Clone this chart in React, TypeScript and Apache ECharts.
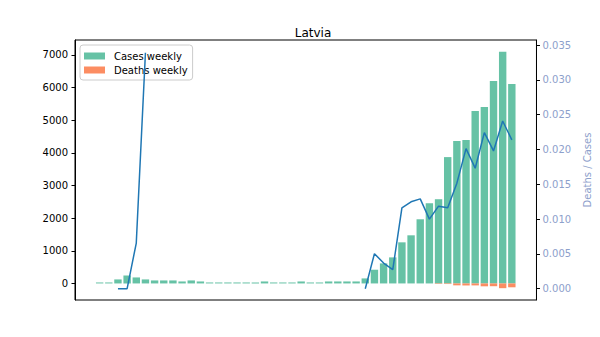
import React, { useEffect, useRef } from "react";
import * as echarts from "echarts";

const title = "Latvia";
const casesWeekly = [
  30, 30, 123, 245, 184, 123, 92, 92, 92, 61, 92, 61, 30, 30, 30, 30, 30, 30, 61, 30,
  30, 30, 61, 30, 30, 61, 61, 61, 61, 154, 420, 614, 798, 1259, 1474, 1965, 2456, 2579,
  3869, 4360, 4391, 5281, 5404, 6202, 7093, 6110,
];
const deathsWeekly = [
  0, 0, 0, 0, 0, 0, 0, 0, 0, 0, 0, 0, 0, 0, 0, 0, 0, 0, 0, 0,
  0, 0, 0, 0, 0, 0, 0, 0, 0, 0, 0, 0, 0, 0, 0, 0, 0, -15,
  -18, -58, -62, -60, -88, -85, -145, -118,
];
const deathsPerCases: (number | null)[] = [
  null, null, 0, 0, 0.00656, 0.0339, null, null, null, null, null, null, null, null,
  null, null, null, null, null, null, null, null, null, null, null, null, null, null,
  null, 0, 0.00503, 0.00369, 0.00273, 0.01162, 0.01248, 0.0129, 0.01, 0.01186, 0.01162,
  0.01516, 0.02012, 0.01731, 0.02242, 0.01979, 0.02409, 0.02137,
];
const leftTicks = [0, 1000, 2000, 3000, 4000, 5000, 6000, 7000];
const rightTicks = [0, 0.005, 0.01, 0.015, 0.02, 0.025, 0.03, 0.035];

const FONT = "DejaVu Sans";

export default function App() {
  const ref = useRef<HTMLDivElement>(null);
  useEffect(() => {
    if (!ref.current) return;
    const chart = echarts.init(ref.current, undefined, { renderer: "svg" });
    chart.setOption({
      animation: false,
      backgroundColor: "#ffffff",
      textStyle: { fontFamily: FONT },
      title: {
        text: title,
        left: 308,
        top: 22,
        textAlign: "center",
        textStyle: { fontFamily: FONT, fontSize: 12, fontWeight: "normal", color: "#000" },
      },
      legend: {
        orient: "vertical",
        left: 80,
        top: 45,
        padding: [6, 5, 5, 4],
        itemGap: 4,
        itemWidth: 21,
        itemHeight: 7,
        borderColor: "#cccccc",
        borderWidth: 1,
        borderRadius: 3,
        backgroundColor: "rgba(255,255,255,0.8)",
        formatter: "{a|{name}}",
        textStyle: {
          fontFamily: FONT,
          fontSize: 10,
          color: "#000",
          rich: { a: { fontFamily: FONT, fontSize: 10, color: "#000", padding: [0, 0, 0, 4] } },
        },
        data: [
          { name: "Cases weekly", icon: "rect" },
          { name: "Deaths weekly", icon: "rect" },
        ],
      },
      grid: {
        left: 75,
        right: 59,
        top: 40,
        bottom: 37,
        show: true,
        borderColor: "#000",
        borderWidth: 1,
        backgroundColor: "transparent",
      },
      xAxis: {
        type: "value",
        min: -2.69,
        max: 47.69,
        show: false,
      },
      yAxis: [
        {
          type: "value",
          min: -507,
          max: 7455,
          splitLine: { show: false },
          axisLine: { show: true, onZero: false, lineStyle: { color: "#000" } },
          axisTick: { show: true, length: 3.5, lineStyle: { color: "#000" }, customValues: leftTicks },
          axisLabel: {
            fontFamily: FONT,
            fontSize: 10,
            color: "#000",
            margin: 7,
            customValues: leftTicks,
            formatter: (v: number) => String(v),
          },
        },
        {
          type: "value",
          position: "right",
          min: -0.00162,
          max: 0.03572,
          splitLine: { show: false },
          axisLine: { show: true, onZero: false, lineStyle: { color: "#000" } },
          axisTick: { show: true, length: 3.5, lineStyle: { color: "#000" }, customValues: rightTicks },
          axisLabel: {
            fontFamily: FONT,
            fontSize: 10,
            color: "#8da0cb",
            margin: 6,
            customValues: rightTicks,
            formatter: (v: number) => v.toFixed(3),
          },
          name: "Deaths / Cases",
          nameLocation: "middle",
          nameRotate: 90,
          nameGap: 37,
          nameTextStyle: { fontFamily: FONT, fontSize: 10, color: "#8da0cb" },
        },
      ],
      series: [
        {
          name: "Cases weekly",
          type: "bar",
          yAxisIndex: 0,
          barWidth: 7.4,
          barGap: "-100%",
          itemStyle: { color: "#66c2a5" },
          data: casesWeekly.map((v, i) => [i, v]),
        },
        {
          name: "Deaths weekly",
          type: "bar",
          yAxisIndex: 0,
          barWidth: 7.4,
          barGap: "-100%",
          itemStyle: { color: "#fc8d62" },
          data: deathsWeekly.map((v, i) => [i, v]),
        },
        {
          name: "Deaths / Cases",
          type: "line",
          yAxisIndex: 1,
          showSymbol: false,
          symbol: "none",
          connectNulls: false,
          lineStyle: { color: "#1f77b4", width: 1.5 },
          itemStyle: { color: "#1f77b4" },
          z: 10,
          data: deathsPerCases.map((v, i) => [i, v === null ? NaN : v]),
        },
      ],
    });
    return () => chart.dispose();
  }, []);
  return (
    <div
      ref={ref}
      style={{ position: "fixed", left: 0, top: 0, width: 600, height: 337 }}
    />
  );
}
